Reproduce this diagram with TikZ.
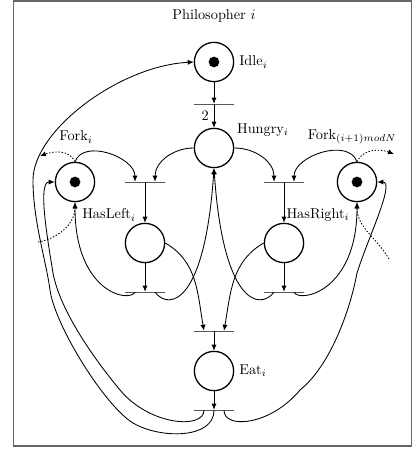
\documentclass[tikz,border=0pt]{standalone}
\usepackage{amsmath}
\usepackage{tikz}
\usetikzlibrary{arrows.meta, calc}

\begin{document}
\begin{tikzpicture}%
	[x=0.7pt, y=0.7pt,
	>={Latex[length=4.2pt,width=3.6pt]},
	place/.style={circle, draw, line width=0.9pt, minimum size=27.5pt, inner sep=0pt},
	token/.style={circle, fill, minimum size=7.5pt, inner sep=0pt},
	transition/.style={rectangle, draw, line width=0.35pt, minimum width=28pt, minimum height=0pt, inner sep=0pt},
	flow/.style={->, line width=0.6pt},
	shared/.style={->, dash pattern=on 1pt off 1.2pt, line width=0.6pt},
	framebox/.style={draw=black!60, line width=0.8pt}]
%
%% Page and frame
%%
\useasboundingbox (0,0) rectangle (412,451);
\draw[framebox] (13.5,5) rectangle (411.5,450);
\node (title) at (214,435) {Philosopher $i$};
%%
%% Places
%%
\node[place] (idle) at (214,389) {};
\node[token] (idle-dot) at (idle) {};
\node[anchor=west] (idle-lbl) at (idle.east) {Idle$_i$};
\node[place] (hungry) at (214,303) {};
\node[anchor=west] (hungry-lbl) at (232,321) {Hungry$_i$};
\node[place] (forkL) at (75,269) {};
\node[token] (forkL-dot) at (forkL) {};
\node (forkL-lbl) at (76,314) {Fork$_i$};
\node[place] (forkR) at (357,269) {};
\node[token] (forkR-dot) at (forkR) {};
\node (forkR-lbl) at (352,314) {Fork$_{(i+1) mod N}$};
\node[place] (hasL) at (145,208) {};
\node (hasL-lbl) at (109,236) {HasLeft$_i$};
\node[place] (hasR) at (284,208) {};
\node (hasR-lbl) at (318,236) {HasRight$_i$};
\node[place] (eat) at (214,80) {};
\node[anchor=west] (eat-lbl) at (eat.east) {Eat$_i$};
%%
%% Transitions
%%
\node[transition] (tHungry) at (214,347) {};
\node[transition] (tLeft) at (145,269) {};
\node[transition] (tRight) at (284,269) {};
\node[transition] (tDropL) at (145,159) {};
\node[transition] (tDropR) at (284,159) {};
\node[transition] (tEat) at (214,120) {};
\node[transition] (tDone) at (214,41) {};
%%
%% Free ends towards the neighbours
%%
\coordinate (forkL-out) at (40,295);
\coordinate (forkL-in) at (38,209);
\coordinate (forkR-out) at (394,297);
\coordinate (forkR-in) at (389,192);
%%
%% Arcs
%%
\draw[flow] (idle) -- (tHungry);
\draw[flow] (tHungry) -- node[left] (weight) {2} (hungry);
\draw[flow] (forkL.north) to[out=70,in=90] ($(tLeft.north)+(-10,0)$);
\draw[flow] (hungry.west) to[out=180,in=90] ($(tLeft.north)+(10,0)$);
\draw[flow] (hungry.east) to[out=0,in=90] ($(tRight.north)+(-10,0)$);
\draw[flow] (forkR.north) to[out=110,in=90] ($(tRight.north)+(10,0)$);
\draw[flow] (tLeft) -- (hasL);
\draw[flow] (tRight) -- (hasR);
\draw[flow] (hasL) -- (tDropL);
\draw[flow] (hasR) -- (tDropR);
\draw[flow] (hasL.east) to[out=-30,in=100] ($(tEat.north)+(-10,0)$);
\draw[flow] (hasR.west) to[out=210,in=80] ($(tEat.north)+(10,0)$);
\draw[flow] (tEat) -- (eat);
\draw[flow] (eat) -- (tDone);
%%
%% Putting a fork back
%%
\draw[flow] ($(tDropL.south)+(-10,0)$) .. controls +(-7,-11) and +(0,-89) .. (forkL.south);
\draw[flow] ($(tDropL.south)+(10,0)$) .. controls +(15,-19) and +(-9,-134) .. (hungry.south);
\draw[flow] ($(tDropR.south)+(-10,0)$) .. controls +(-15,-19) and +(9,-134) .. (hungry.south);
\draw[flow] ($(tDropR.south)+(10,0)$) .. controls +(6,-11) and +(0,-89) .. (forkR.south);
%%
%% After eating
%%
\draw[flow] (tDone.south) .. controls +(0,-29) and +(27,-16) .. (133,28)
	.. controls +(-28,17) and +(5,-36) .. (50,161)
	.. controls +(-4,30) and +(0,-41) .. (33,271)
	.. controls +(0,49) and +(-75,-4) .. (idle.west);
\draw[flow] ($(tDone.south)+(-10,0)$) .. controls +(0,-19) and +(30,-36) .. (120,61)
	.. controls +(-25,30) and +(7,-38) .. (53,178)
	.. controls +(-6,37) and +(-17,0) .. (forkL.west);
\draw[flow] ($(tDone.south)+(10,0)$) .. controls +(0,-19) and +(-30,-36) .. (300,61)
	.. controls +(30,24) and +(-7,-38) .. (357,178)
	.. controls +(11,35) and +(18,0) .. (forkR.east);
%%
%% Forks shared with the neighbours
%%
\draw[shared] (forkL.north) to[out=115,in=20] (forkL-out);
\draw[shared] (forkL-in) to[out=10,in=-90] (forkL.south);
\draw[shared] (forkR.north) to[out=65,in=160] (forkR-out);
\draw[shared] (forkR-in) to[out=120,in=-90] (forkR.south);
%%
\end{tikzpicture}
\end{document}
